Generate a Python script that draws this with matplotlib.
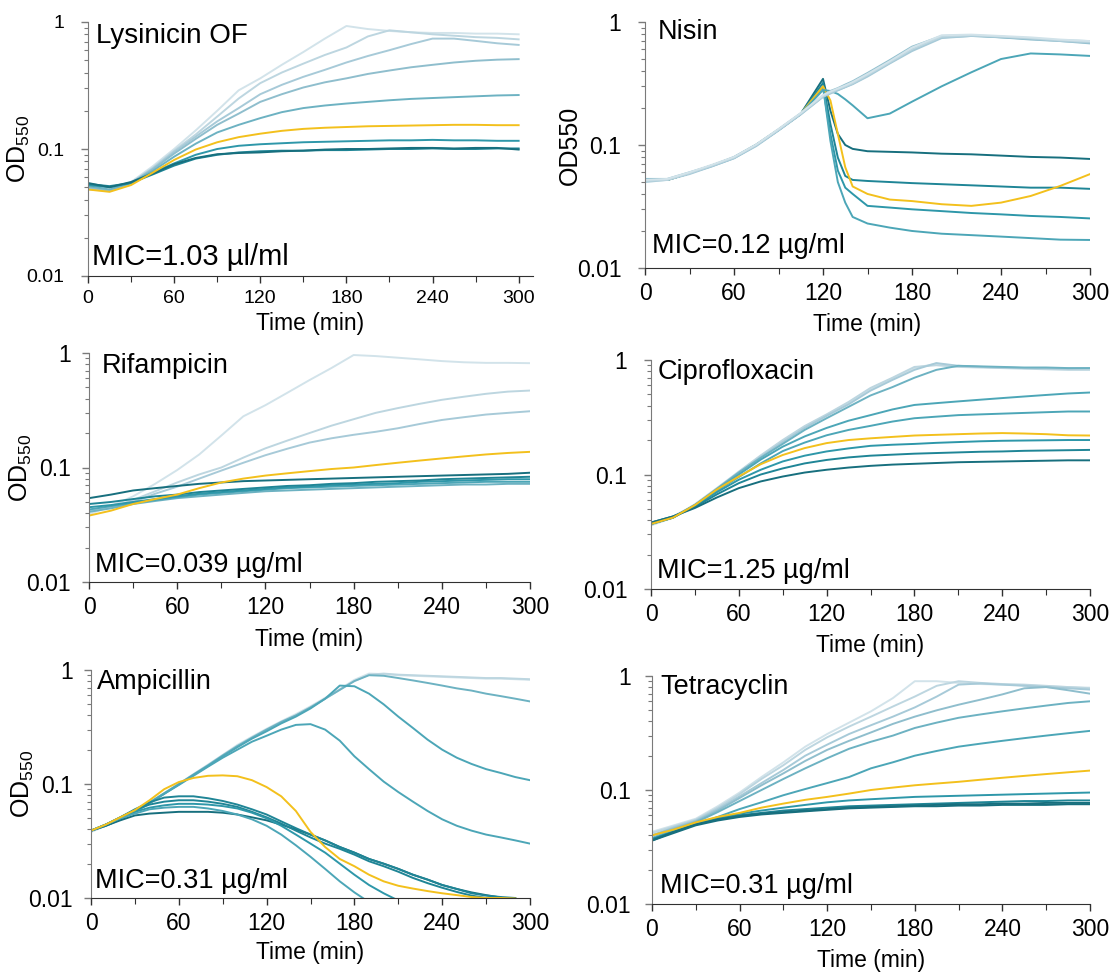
import numpy as np
import matplotlib
matplotlib.use("Agg")
import matplotlib.pyplot as plt
from matplotlib.ticker import LogLocator, MultipleLocator, NullFormatter, FixedLocator, FixedFormatter

plt.rcParams['font.family'] = ['Liberation Sans', 'DejaVu Sans']
plt.rcParams['mathtext.fontset'] = 'custom'
plt.rcParams['mathtext.rm'] = 'Liberation Sans'
plt.rcParams['mathtext.it'] = 'Liberation Sans:italic'

nan = np.nan
t15 = [0, 15, 30, 45, 60, 75, 90, 105, 120, 135, 150, 165, 180, 195, 210, 225, 240, 255, 270, 285, 300]
t10 = [0, 10, 20, 30, 40, 50, 60, 70, 80, 90, 100, 110, 120, 130, 140, 150, 160, 170, 180, 190,
       200, 210, 220, 230, 240, 250, 260, 270, 280, 290, 300]
t_nisin = [0, 15, 30, 45, 60, 75, 90, 105, 120, 125, 130, 135, 140, 150, 165, 180, 200, 220, 240, 260, 280, 300]

# teal shades, light -> dark, and the MIC curve colour
teal = ['#d2e3ea', '#bdd6e0', '#a7cad8', '#8fbecd', '#6db2c2', '#4ca6b7', '#2e97a9', '#1f8596', '#176f7e']
yellow = '#f3c01c'

# ---- Lysinicin OF ----
lys_1 = [0.050, 0.047, 0.055, 0.073, 0.10, 0.14, 0.20, 0.29, 0.36, 0.46, 0.58, 0.74, 0.93, 0.88, 0.85, 0.83, 0.82, 0.82, 0.81, 0.81, 0.80]
lys_2 = [0.048, 0.047, 0.054, 0.071, 0.097, 0.13, 0.18, 0.25, 0.33, 0.40, 0.47, 0.55, 0.63, 0.77, 0.86, 0.83, 0.80, 0.78, 0.76, 0.75, 0.73]
lys_3 = [0.049, 0.047, 0.054, 0.070, 0.095, 0.125, 0.165, 0.21, 0.27, 0.32, 0.37, 0.42, 0.48, 0.54, 0.60, 0.67, 0.74, 0.74, 0.71, 0.68, 0.66]
lys_4 = [0.050, 0.047, 0.054, 0.069, 0.092, 0.12, 0.155, 0.19, 0.235, 0.27, 0.305, 0.335, 0.36, 0.39, 0.415, 0.44, 0.46, 0.48, 0.495, 0.505, 0.51]
lys_5 = [0.051, 0.048, 0.054, 0.067, 0.087, 0.11, 0.135, 0.155, 0.175, 0.195, 0.21, 0.22, 0.228, 0.235, 0.242, 0.248, 0.252, 0.256, 0.26, 0.264, 0.266]
lys_mic = [0.048, 0.046, 0.052, 0.065, 0.082, 0.099, 0.113, 0.124, 0.132, 0.139, 0.144, 0.147, 0.149, 0.151, 0.152, 0.153, 0.154, 0.155, 0.155, 0.154, 0.154]
lys_6 = [0.052, 0.050, 0.054, 0.065, 0.077, 0.090, 0.100, 0.106, 0.109, 0.111, 0.113, 0.114, 0.115, 0.116, 0.117, 0.117, 0.118, 0.117, 0.117, 0.116, 0.116]
lys_7 = [0.053, 0.051, 0.054, 0.063, 0.074, 0.084, 0.090, 0.094, 0.096, 0.097, 0.097, 0.098, 0.098, 0.099, 0.100, 0.100, 0.101, 0.100, 0.100, 0.101, 0.101]
lys_8 = [0.054, 0.050, 0.055, 0.064, 0.076, 0.085, 0.091, 0.093, 0.094, 0.096, 0.097, 0.099, 0.100, 0.100, 0.101, 0.102, 0.102, 0.101, 0.102, 0.102, 0.099]

# ---- Nisin ----
nis_1 = [0.052, 0.053, 0.060, 0.069, 0.080, 0.101, 0.135, 0.182, 0.255, 0.272, 0.288, 0.305, 0.325, 0.378, 0.48, 0.62, 0.78, 0.79, 0.77, 0.75, 0.72, 0.70]
nis_2 = [0.051, 0.052, 0.059, 0.068, 0.079, 0.100, 0.133, 0.180, 0.250, 0.268, 0.284, 0.300, 0.318, 0.370, 0.47, 0.60, 0.76, 0.78, 0.76, 0.74, 0.71, 0.69]
nis_3 = [0.050, 0.052, 0.058, 0.067, 0.078, 0.098, 0.131, 0.177, 0.246, 0.262, 0.278, 0.295, 0.312, 0.360, 0.46, 0.58, 0.74, 0.77, 0.76, 0.73, 0.70, 0.68]
nis_4 = [0.053, 0.053, 0.060, 0.068, 0.080, 0.101, 0.134, 0.181, 0.252, 0.275, 0.290, 0.310, 0.330, 0.385, 0.49, 0.63, 0.77, 0.78, 0.75, 0.73, 0.71, 0.70]
nis_5 = [0.052, 0.052, 0.059, 0.067, 0.078, 0.099, 0.132, 0.178, 0.248, 0.265, 0.280, 0.296, 0.315, 0.365, 0.465, 0.59, 0.75, 0.77, 0.75, 0.72, 0.70, 0.67]
nis_6 = [0.052, 0.052, 0.059, 0.068, 0.079, 0.100, 0.132, 0.179, 0.280, 0.275, 0.260, 0.235, 0.210, 0.165, 0.180, 0.225, 0.30, 0.39, 0.50, 0.555, 0.545, 0.53]
nis_7 = [0.052, 0.052, 0.059, 0.068, 0.079, 0.100, 0.133, 0.179, 0.345, 0.190, 0.123, 0.100, 0.093, 0.089, 0.088, 0.087, 0.085, 0.084, 0.082, 0.080, 0.079, 0.077]
nis_8 = [0.052, 0.052, 0.059, 0.068, 0.079, 0.100, 0.133, 0.179, 0.320, 0.148, 0.079, 0.056, 0.052, 0.051, 0.050, 0.049, 0.048, 0.047, 0.046, 0.045, 0.045, 0.044]
nis_mic = [0.052, 0.052, 0.059, 0.068, 0.079, 0.100, 0.133, 0.179, 0.300, 0.230, 0.123, 0.066, 0.046, 0.040, 0.036, 0.035, 0.033, 0.032, 0.034, 0.0385, 0.0465, 0.058]
nis_9 = [0.052, 0.052, 0.059, 0.068, 0.079, 0.100, 0.133, 0.179, 0.295, 0.123, 0.062, 0.045, 0.040, 0.032, 0.031, 0.030, 0.029, 0.028, 0.0273, 0.0265, 0.026, 0.0253]
nis_10 = [0.052, 0.052, 0.059, 0.068, 0.079, 0.100, 0.133, 0.179, 0.300, 0.108, 0.050, 0.034, 0.026, 0.023, 0.0213, 0.020, 0.019, 0.0185, 0.018, 0.0175, 0.017, 0.0169]

# ---- Rifampicin ----
rif_1 = [0.039, 0.046, 0.056, 0.072, 0.095, 0.13, 0.19, 0.28, 0.35, 0.45, 0.58, 0.74, 0.96, 0.94, 0.91, 0.88, 0.85, 0.83, 0.82, 0.82, 0.815]
rif_2 = [0.041, 0.045, 0.052, 0.062, 0.074, 0.087, 0.100, 0.122, 0.147, 0.172, 0.200, 0.232, 0.264, 0.30, 0.33, 0.36, 0.39, 0.415, 0.44, 0.46, 0.47]
rif_3 = [0.042, 0.045, 0.050, 0.059, 0.068, 0.080, 0.094, 0.110, 0.128, 0.146, 0.165, 0.180, 0.193, 0.205, 0.22, 0.24, 0.26, 0.275, 0.29, 0.30, 0.31]
rif_mic = [0.038, 0.042, 0.048, 0.053, 0.058, 0.066, 0.074, 0.080, 0.085, 0.089, 0.093, 0.097, 0.100, 0.105, 0.110, 0.115, 0.120, 0.125, 0.130, 0.134, 0.137]
rif_4 = [0.041, 0.044, 0.048, 0.051, 0.054, 0.056, 0.058, 0.060, 0.062, 0.063, 0.064, 0.065, 0.066, 0.067, 0.068, 0.069, 0.070, 0.071, 0.071, 0.072, 0.072]
rif_5 = [0.043, 0.046, 0.049, 0.052, 0.055, 0.058, 0.060, 0.062, 0.064, 0.066, 0.067, 0.068, 0.069, 0.070, 0.071, 0.072, 0.073, 0.074, 0.075, 0.075, 0.075]
rif_6 = [0.045, 0.047, 0.050, 0.053, 0.056, 0.059, 0.061, 0.063, 0.065, 0.067, 0.068, 0.070, 0.071, 0.072, 0.073, 0.075, 0.076, 0.077, 0.078, 0.079, 0.079]
rif_7 = [0.048, 0.050, 0.053, 0.056, 0.058, 0.061, 0.063, 0.065, 0.067, 0.069, 0.070, 0.072, 0.073, 0.075, 0.076, 0.077, 0.079, 0.080, 0.081, 0.082, 0.083]
rif_8 = [0.054, 0.058, 0.063, 0.066, 0.069, 0.072, 0.074, 0.076, 0.077, 0.078, 0.079, 0.080, 0.081, 0.082, 0.083, 0.084, 0.085, 0.086, 0.087, 0.088, 0.090]

# ---- Ciprofloxacin ----
cip_1 = [0.037, 0.042, 0.054, 0.075, 0.105, 0.145, 0.195, 0.26, 0.33, 0.42, 0.56, 0.69, 0.85, 0.93, 0.88, 0.87, 0.86, 0.85, 0.84, 0.84, 0.84]
cip_2 = [0.036, 0.042, 0.055, 0.076, 0.106, 0.147, 0.200, 0.265, 0.335, 0.43, 0.57, 0.70, 0.87, 0.90, 0.87, 0.86, 0.85, 0.84, 0.83, 0.82, 0.82]
cip_3 = [0.038, 0.043, 0.054, 0.074, 0.104, 0.143, 0.192, 0.255, 0.325, 0.41, 0.54, 0.67, 0.82, 0.94, 0.89, 0.87, 0.86, 0.85, 0.85, 0.84, 0.85]
cip_4 = [0.037, 0.042, 0.054, 0.075, 0.104, 0.140, 0.185, 0.245, 0.31, 0.39, 0.49, 0.58, 0.70, 0.82, 0.89, 0.88, 0.87, 0.86, 0.86, 0.85, 0.85]
cip_5 = [0.037, 0.042, 0.054, 0.074, 0.100, 0.135, 0.175, 0.215, 0.255, 0.295, 0.33, 0.37, 0.405, 0.42, 0.435, 0.45, 0.465, 0.48, 0.495, 0.51, 0.52]
cip_6 = [0.037, 0.042, 0.054, 0.072, 0.095, 0.125, 0.160, 0.190, 0.220, 0.245, 0.266, 0.29, 0.31, 0.32, 0.33, 0.335, 0.34, 0.345, 0.35, 0.355, 0.355]
cip_mic = [0.037, 0.042, 0.054, 0.074, 0.096, 0.123, 0.148, 0.170, 0.188, 0.200, 0.207, 0.213, 0.219, 0.222, 0.225, 0.228, 0.230, 0.228, 0.225, 0.220, 0.219]
cip_7 = [0.037, 0.042, 0.053, 0.070, 0.090, 0.110, 0.130, 0.146, 0.159, 0.169, 0.178, 0.182, 0.185, 0.189, 0.192, 0.195, 0.197, 0.198, 0.199, 0.200, 0.200]
cip_8 = [0.038, 0.043, 0.052, 0.067, 0.084, 0.100, 0.113, 0.125, 0.134, 0.141, 0.146, 0.149, 0.152, 0.154, 0.156, 0.158, 0.159, 0.161, 0.162, 0.163, 0.164]
cip_9 = [0.038, 0.043, 0.051, 0.063, 0.076, 0.087, 0.096, 0.104, 0.110, 0.115, 0.119, 0.122, 0.124, 0.126, 0.128, 0.129, 0.130, 0.131, 0.132, 0.133, 0.133]

# ---- Ampicillin (10 min steps) ----
amp_1 = [0.039, 0.043, 0.049, 0.057, 0.068, 0.082, 0.100, 0.122, 0.148, 0.180, 0.22, 0.26, 0.305, 0.355, 0.41, 0.48, 0.57, 0.68,
         0.82, 0.93, 0.92, 0.90, 0.89, 0.88, 0.87, 0.86, 0.85, 0.84, 0.84, 0.83, 0.82]
amp_2 = [0.038, 0.043, 0.049, 0.058, 0.069, 0.083, 0.100, 0.121, 0.146, 0.178, 0.215, 0.255, 0.30, 0.35, 0.40, 0.47, 0.56, 0.67,
         0.80, 0.91, 0.93, 0.91, 0.90, 0.89, 0.88, 0.87, 0.86, 0.85, 0.85, 0.84, 0.83]
amp_3 = [0.039, 0.043, 0.049, 0.058, 0.069, 0.083, 0.100, 0.121, 0.146, 0.178, 0.215, 0.255, 0.30, 0.35, 0.40, 0.47, 0.56, 0.67,
         0.80, 0.90, 0.89, 0.85, 0.81, 0.77, 0.73, 0.69, 0.66, 0.62, 0.59, 0.56, 0.53]
amp_4 = [0.039, 0.043, 0.049, 0.057, 0.068, 0.082, 0.099, 0.120, 0.144, 0.175, 0.21, 0.25, 0.29, 0.34, 0.39, 0.46, 0.56, 0.73,
         0.72, 0.62, 0.50, 0.39, 0.31, 0.245, 0.20, 0.17, 0.15, 0.135, 0.125, 0.115, 0.108]
amp_5 = [0.039, 0.043, 0.049, 0.057, 0.068, 0.082, 0.098, 0.118, 0.142, 0.170, 0.20, 0.235, 0.265, 0.30, 0.33, 0.335, 0.30, 0.24,
         0.175, 0.135, 0.105, 0.085, 0.070, 0.058, 0.049, 0.043, 0.039, 0.036, 0.034, 0.032, 0.030]
amp_mic = [0.039, 0.044, 0.051, 0.059, 0.072, 0.090, 0.104, 0.113, 0.118, 0.119, 0.117, 0.108, 0.094, 0.078, 0.058, 0.038, 0.028,
           0.022, 0.019, 0.016, 0.014, 0.0128, 0.0121, 0.0115, 0.011, 0.0106, 0.0102, 0.0100, 0.0100, 0.0099, nan]
amp_6 = [0.039, 0.043, 0.048, 0.053, 0.055, 0.056, 0.057, 0.057, 0.057, 0.056, 0.054, 0.051, 0.048, 0.044, 0.040, 0.036, 0.032,
         0.028, 0.025, 0.022, 0.020, 0.018, 0.016, 0.0145, 0.013, 0.012, 0.0112, 0.0106, 0.0101, nan, nan]
amp_7 = [0.039, 0.044, 0.051, 0.059, 0.066, 0.070, 0.072, 0.072, 0.070, 0.067, 0.063, 0.057, 0.051, 0.045, 0.039, 0.034, 0.030,
         0.027, 0.024, 0.021, 0.019, 0.017, 0.015, 0.0135, 0.0123, 0.0113, 0.0105, 0.0100, nan, nan, nan]
amp_8 = [0.039, 0.044, 0.051, 0.060, 0.069, 0.076, 0.078, 0.078, 0.075, 0.071, 0.066, 0.060, 0.054, 0.047, 0.041, 0.036, 0.032,
         0.028, 0.025, 0.022, 0.020, 0.018, 0.016, 0.0145, 0.013, 0.012, 0.011, 0.0105, 0.0102, 0.0100, nan]
amp_9 = [0.039, 0.044, 0.050, 0.057, 0.062, 0.065, 0.067, 0.067, 0.066, 0.064, 0.061, 0.056, 0.050, 0.043, 0.036, 0.030, 0.025,
         0.020, 0.016, 0.013, 0.011, 0.0095, nan, nan, nan, nan, nan, nan, nan, nan, nan]
amp_10 = [0.039, 0.044, 0.050, 0.055, 0.060, 0.062, 0.063, 0.063, 0.061, 0.058, 0.054, 0.049, 0.043, 0.036, 0.029, 0.023, 0.018,
          0.014, 0.0112, 0.0092, nan, nan, nan, nan, nan, nan, nan, nan, nan, nan, nan]

# ---- Tetracyclin ----
tet_1 = [0.043, 0.049, 0.056, 0.072, 0.095, 0.130, 0.175, 0.24, 0.31, 0.39, 0.49, 0.64, 0.90, 0.90, 0.87, 0.85, 0.84, 0.83, 0.81, 0.80, 0.79]
tet_2 = [0.042, 0.048, 0.055, 0.070, 0.092, 0.125, 0.165, 0.225, 0.29, 0.36, 0.44, 0.54, 0.66, 0.82, 0.90, 0.87, 0.85, 0.84, 0.82, 0.80, 0.78]
tet_3 = [0.040, 0.047, 0.054, 0.068, 0.088, 0.115, 0.150, 0.20, 0.25, 0.31, 0.37, 0.44, 0.53, 0.66, 0.84, 0.86, 0.84, 0.82, 0.80, 0.78, 0.76]
tet_4 = [0.040, 0.046, 0.053, 0.066, 0.085, 0.110, 0.140, 0.18, 0.225, 0.27, 0.32, 0.38, 0.44, 0.50, 0.56, 0.62, 0.69, 0.78, 0.80, 0.75, 0.70]
tet_5 = [0.038, 0.045, 0.052, 0.064, 0.080, 0.100, 0.125, 0.155, 0.19, 0.23, 0.265, 0.30, 0.35, 0.39, 0.43, 0.46, 0.49, 0.52, 0.55, 0.58, 0.60]
tet_6 = [0.037, 0.044, 0.050, 0.058, 0.068, 0.078, 0.090, 0.102, 0.115, 0.130, 0.155, 0.175, 0.20, 0.22, 0.24, 0.255, 0.27, 0.285, 0.30, 0.315, 0.33]
tet_mic = [0.040, 0.045, 0.052, 0.058, 0.063, 0.070, 0.076, 0.082, 0.087, 0.093, 0.100, 0.105, 0.110, 0.114, 0.118, 0.123, 0.128, 0.133, 0.138, 0.143, 0.148]
tet_7 = [0.037, 0.043, 0.050, 0.057, 0.062, 0.066, 0.070, 0.074, 0.078, 0.081, 0.083, 0.085, 0.087, 0.088, 0.089, 0.090, 0.091, 0.092, 0.093, 0.094, 0.095]
tet_8 = [0.037, 0.043, 0.050, 0.056, 0.060, 0.063, 0.066, 0.068, 0.070, 0.072, 0.073, 0.074, 0.075, 0.076, 0.077, 0.078, 0.079, 0.080, 0.080, 0.081, 0.081]
tet_9 = [0.036, 0.043, 0.050, 0.055, 0.059, 0.062, 0.064, 0.066, 0.068, 0.070, 0.071, 0.072, 0.073, 0.074, 0.075, 0.075, 0.076, 0.076, 0.077, 0.077, 0.077]
tet_10 = [0.036, 0.042, 0.049, 0.054, 0.058, 0.061, 0.063, 0.065, 0.067, 0.069, 0.070, 0.071, 0.072, 0.072, 0.073, 0.073, 0.074, 0.074, 0.074, 0.075, 0.075]

titles = ['Lysinicin OF', 'Nisin', 'Rifampicin', 'Ciprofloxacin', 'Ampicillin', 'Tetracyclin']
mics = ['MIC=1.03 µl/ml', 'MIC=0.12 µg/ml', 'MIC=0.039 µg/ml', 'MIC=1.25 µg/ml', 'MIC=0.31 µg/ml', 'MIC=0.31 µg/ml']

# (time, [(values, colour), ...]) per panel, in drawing order
panel_data = [
    (t15, [(lys_1, teal[0]), (lys_2, teal[1]), (lys_3, teal[2]), (lys_4, teal[3]), (lys_5, teal[4]),
           (lys_6, teal[6]), (lys_7, teal[7]), (lys_8, teal[8]), (lys_mic, yellow)]),
    (t_nisin, [(nis_7, teal[8]), (nis_8, teal[7]), (nis_9, teal[6]), (nis_10, teal[5]), (nis_mic, yellow),
               (nis_6, teal[5]), (nis_5, teal[3]), (nis_4, teal[3]), (nis_3, teal[2]), (nis_2, teal[1]),
               (nis_1, teal[0])]),
    (t15, [(rif_1, teal[0]), (rif_2, teal[1]), (rif_3, teal[2]), (rif_4, teal[4]), (rif_5, teal[5]),
           (rif_6, teal[6]), (rif_7, teal[7]), (rif_8, teal[8]), (rif_mic, yellow)]),
    (t15, [(cip_1, teal[0]), (cip_2, teal[1]), (cip_3, teal[2]), (cip_4, teal[4]), (cip_5, teal[5]),
           (cip_6, teal[5]), (cip_7, teal[6]), (cip_8, teal[7]), (cip_9, teal[8]), (cip_mic, yellow)]),
    (t10, [(amp_1, teal[0]), (amp_2, teal[1]), (amp_3, teal[4]), (amp_4, teal[5]), (amp_5, teal[5]),
           (amp_6, teal[8]), (amp_7, teal[7]), (amp_8, teal[7]), (amp_9, teal[6]), (amp_10, teal[5]),
           (amp_mic, yellow)]),
    (t15, [(tet_1, teal[0]), (tet_2, teal[1]), (tet_3, teal[2]), (tet_4, teal[3]), (tet_5, teal[4]),
           (tet_6, teal[5]), (tet_7, teal[6]), (tet_8, teal[7]), (tet_9, teal[8]), (tet_10, teal[8]),
           (tet_mic, yellow)]),
]

W, H = 1115, 976
# axes boxes in pixels: left, right(x max), top(y=1), bottom(y=0.01)
boxes = [(88, 533, 22, 276), (645, 1090, 22, 268),
         (89, 530, 353, 582), (651, 1090, 360, 589),
         (91, 530, 670, 898), (652, 1090, 676, 904)]
xmax = [310, 300, 300, 300, 300, 300]
title_pos = [(0.018, 0.917), (0.029, 0.931), (0.029, 0.913), (0.016, 0.917), (0.014, 0.917), (0.018, 0.921)]
mic_pos = [(0.009, 0.043), (0.016, 0.061), (0.014, 0.044), (0.014, 0.048), (0.009, 0.044), (0.018, 0.048)]
title_fs = [20, 19.5, 19.5, 19.5, 19.5, 19.5]
mic_fs = [21, 19.5, 19.5, 19.5, 19.5, 19.5]
tick_fs = [14, 16.5, 16.5, 16.5, 16.5, 16.5]
ytick_pad = [12, 12, 8, 12, 8, 10]
ylab = ['OD$_{550}$', 'OD550', 'OD$_{550}$', None, 'OD$_{550}$', None]
ylab_x = [32, 582, 34, None, 36, None]
xlab_top = [312, 313, 628, 634, 941, 949]

fig = plt.figure(figsize=(W / 100, H / 100), dpi=100)

for i, (t, series) in enumerate(panel_data):
    l, r, tp, b = boxes[i]
    ax = fig.add_axes([l / W, 1 - b / H, (r - l) / W, (b - tp) / H])
    for vals, col in series:
        ax.plot(t, vals, color=col, lw=1.4, solid_joinstyle='round')
    ax.set_yscale('log')
    ax.set_ylim(0.01, 1)
    ax.set_xlim(0, xmax[i])

    ax.yaxis.set_major_locator(FixedLocator([0.01, 0.1, 1]))
    ax.yaxis.set_major_formatter(FixedFormatter(['0.01', '0.1', '1']))
    ax.yaxis.set_minor_locator(LogLocator(base=10, subs=np.arange(2, 10)))
    ax.yaxis.set_minor_formatter(NullFormatter())
    ax.xaxis.set_major_locator(FixedLocator([0, 60, 120, 180, 240, 300]))
    ax.xaxis.set_minor_locator(MultipleLocator(30))

    for s in ['top', 'right']:
        ax.spines[s].set_visible(False)
    ax.spines['left'].set_color('#7a7a7a')
    ax.spines['bottom'].set_color('#303030')
    ax.tick_params(axis='y', which='major', length=5, width=1, color='#7a7a7a',
                   labelsize=tick_fs[i], pad=ytick_pad[i])
    ax.tick_params(axis='y', which='minor', length=3, width=0.8, color='#7a7a7a')
    ax.tick_params(axis='x', which='major', length=5, width=1, color='#303030', labelsize=tick_fs[i], pad=5)
    ax.tick_params(axis='x', which='minor', length=4, width=0.8, color='#303030')

    ax.text(title_pos[i][0], title_pos[i][1], titles[i], transform=ax.transAxes,
            fontsize=title_fs[i], va='baseline', ha='left')
    ax.text(mic_pos[i][0], mic_pos[i][1], mics[i], transform=ax.transAxes,
            fontsize=mic_fs[i], va='baseline', ha='left')

    ax.set_xlabel('Time (min)', fontsize=16.5)
    ax.xaxis.set_label_coords(((l + r) / 2) / W, 1 - xlab_top[i] / H, transform=fig.transFigure)
    if ylab[i] is not None:
        ax.set_ylabel(ylab[i], fontsize=18)
        ax.yaxis.set_label_coords(ylab_x[i] / W, 1 - ((tp + b) / 2) / H, transform=fig.transFigure)

fig.savefig('out.png', dpi=100)
